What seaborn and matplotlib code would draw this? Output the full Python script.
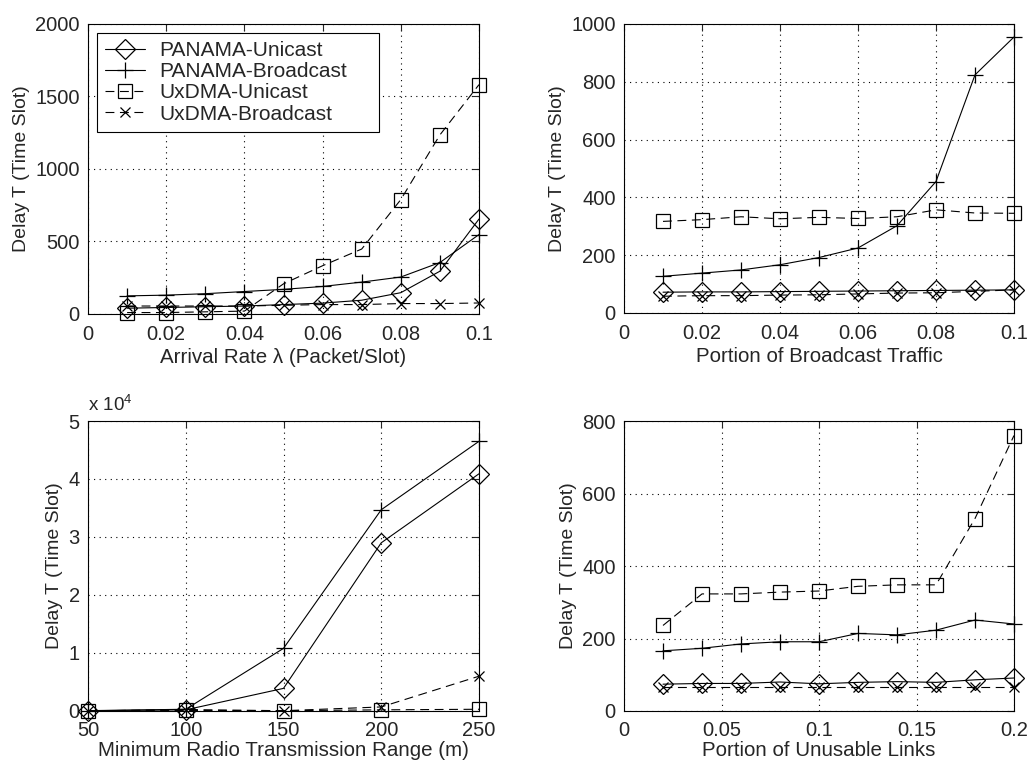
import numpy as np
import pandas as pd
import matplotlib
matplotlib.use("Agg")
import matplotlib.pyplot as plt
import seaborn as sns
from matplotlib.ticker import FuncFormatter

sns.set_style("white")
plt.rcParams['font.family'] = ['Liberation Sans', 'DejaVu Sans']
plt.rcParams['mathtext.fontset'] = 'custom'
plt.rcParams['mathtext.rm'] = 'Liberation Sans'

series_names = ["PANAMA-Unicast", "PANAMA-Broadcast", "UxDMA-Unicast", "UxDMA-Broadcast"]

# Panel 1: arrival rate
x1 = [0.01, 0.02, 0.03, 0.04, 0.05, 0.06, 0.07, 0.08, 0.09, 0.1]
p1_pan_uni = [40, 45, 50, 55, 65, 75, 95, 147, 295, 655]
p1_pan_bc = [125, 130, 140, 155, 170, 190, 220, 255, 355, 548]
p1_ux_uni = [10, 10, 15, 20, 208, 333, 448, 789, 1235, 1582]
p1_ux_bc = [55, 55, 55, 55, 60, 65, 65, 72, 72, 76]

# Panel 2: portion of broadcast traffic
x2 = [0.01, 0.02, 0.03, 0.04, 0.05, 0.06, 0.07, 0.08, 0.09, 0.1]
p2_pan_uni = [72, 73, 73, 74, 75, 76, 77, 78, 79, 80]
p2_pan_bc = [127, 138, 149, 167, 192, 225, 302, 455, 824, 955]
p2_ux_uni = [317, 323, 333, 326, 331, 327, 333, 357, 346, 345]
p2_ux_bc = [58, 60, 60, 62, 63, 66, 69, 70, 75, 80]

# Panel 3: minimum radio transmission range
x3 = [50, 100, 150, 200, 250]
p3_pan_uni = [50, 200, 3900, 29000, 40900]
p3_pan_bc = [60, 300, 10800, 34700, 46500]
p3_ux_uni = [10, 250, 50, 200, 300]
p3_ux_bc = [20, 100, 50, 700, 6000]

# Panel 4: portion of unusable links
x4 = [0.02, 0.04, 0.06, 0.08, 0.1, 0.12, 0.14, 0.16, 0.18, 0.2]
p4_pan_uni = [74, 76, 76, 80, 75, 79, 81, 79, 86, 91]
p4_pan_bc = [166, 173, 185, 191, 191, 214, 210, 223, 251, 240]
p4_ux_uni = [236, 323, 323, 328, 331, 344, 348, 348, 531, 760]
p4_ux_bc = [65, 65, 65, 65, 65, 65, 65, 65, 65, 65]

styles = [
    dict(marker='D', linestyle='-', markersize=10),
    dict(marker='+', linestyle='-', markersize=11),
    dict(marker='s', linestyle=(0, (8, 5)), markersize=9.5),
    dict(marker='x', linestyle=(0, (8, 5)), markersize=7.5),
]

fig = plt.figure(figsize=(10.28, 7.64), dpi=100)
W, H = 1028, 764
def add_axes(l, t, r, b):
    return fig.add_axes([l / W, 1 - b / H, (r - l) / W, (b - t) / H])

ax1 = add_axes(88, 24, 479, 314)
ax2 = add_axes(624, 24, 1014, 313)
ax3 = add_axes(88, 421, 479, 711)
ax4 = add_axes(624, 421, 1014, 711)

panels = [
    (ax1, x1, [p1_pan_uni, p1_pan_bc, p1_ux_uni, p1_ux_bc]),
    (ax2, x2, [p2_pan_uni, p2_pan_bc, p2_ux_uni, p2_ux_bc]),
    (ax3, x3, [p3_pan_uni, p3_pan_bc, p3_ux_uni, p3_ux_bc]),
    (ax4, x4, [p4_pan_uni, p4_pan_bc, p4_ux_uni, p4_ux_bc]),
]

for ax, xs, ys in panels:
    for name, yv, st in zip(series_names, ys, styles):
        sns.lineplot(x=xs, y=yv, ax=ax, color='black', linewidth=0.8,
                     marker=st['marker'], linestyle=st['linestyle'],
                     markersize=st['markersize'], markerfacecolor='none',
                     markeredgecolor='black', markeredgewidth=0.9,
                     label=name, legend=False, clip_on=False, zorder=3)

tfs = 14.5
xlfs = 14.8
ylfs = 14
for ax in [ax1, ax2, ax3, ax4]:
    ax.grid(True, linestyle=(0, (1, 4)), color='black', linewidth=0.8)
    ax.tick_params(direction='in', top=True, right=True, length=5,
                   labelsize=tfs, width=0.8, pad=6)
    ax.tick_params(axis='x', pad=8)
    for s in ax.spines.values():
        s.set_color('black')
        s.set_linewidth(0.8)
    ax.set_ylabel("Delay T (Time Slot)", fontsize=ylfs, labelpad=4)

ax1.set_xlim(0, 0.1); ax1.set_ylim(0, 2000)
ax1.set_xticks([0, 0.02, 0.04, 0.06, 0.08, 0.1])
ax1.set_xticklabels(["0", "0.02", "0.04", "0.06", "0.08", "0.1"])
ax1.set_yticks([0, 500, 1000, 1500, 2000])
ax1.set_xlabel("Arrival Rate λ (Packet/Slot)", fontsize=xlfs, labelpad=3)

ax2.set_xlim(0, 0.1); ax2.set_ylim(0, 1000)
ax2.set_xticks([0, 0.02, 0.04, 0.06, 0.08, 0.1])
ax2.set_xticklabels(["0", "0.02", "0.04", "0.06", "0.08", "0.1"])
ax2.set_yticks([0, 200, 400, 600, 800, 1000])
ax2.set_xlabel("Portion of Broadcast Traffic", fontsize=xlfs, labelpad=3)

ax3.set_xlim(50, 250); ax3.set_ylim(0, 50000)
ax3.set_xticks([50, 100, 150, 200, 250])
ax3.set_yticks([0, 10000, 20000, 30000, 40000, 50000])
ax3.yaxis.set_major_formatter(FuncFormatter(lambda v, p: f"{v/1e4:g}"))
ax3.text(0.0, 1.02, r"x 10$^4$", transform=ax3.transAxes, fontsize=13.5,
         ha='left', va='bottom')
ax3.set_xlabel("Minimum Radio Transmission Range (m)", fontsize=xlfs, labelpad=1)
ax3.tick_params(axis='x', pad=7)

ax4.set_xlim(0, 0.2); ax4.set_ylim(0, 800)
ax4.set_xticks([0, 0.05, 0.1, 0.15, 0.2])
ax4.set_xticklabels(["0", "0.05", "0.1", "0.15", "0.2"])
ax4.set_yticks([0, 200, 400, 600, 800])
ax4.set_xlabel("Portion of Unusable Links", fontsize=xlfs, labelpad=1)
ax4.tick_params(axis='x', pad=7)

leg = ax1.legend(loc='upper left', bbox_to_anchor=(0.023, 0.969, 0.721, 0.0),
                 mode='expand', borderaxespad=0, fontsize=15,
                 frameon=True, fancybox=False, framealpha=1, edgecolor='black',
                 handlelength=1.9, labelspacing=0.1, borderpad=0.4,
                 handletextpad=0.7)
leg.get_frame().set_linewidth(0.8)

fig.savefig("out.png", dpi=100)
